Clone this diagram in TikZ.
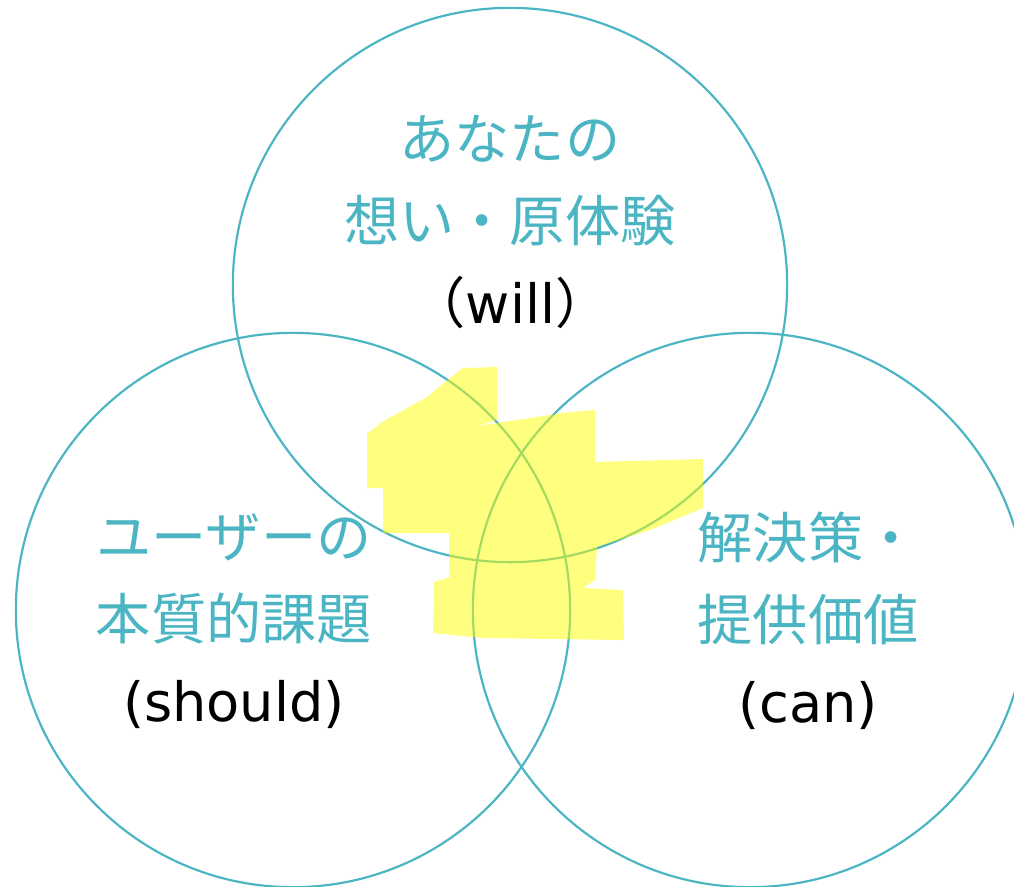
\documentclass[tikz,border=0pt]{standalone}
\usepackage{fontspec}
\setmainfont{DejaVu Sans}
\newfontfamily\jp{Noto Sans CJK JP}
\definecolor{vennteal}{RGB}{75,181,196}
\definecolor{marker}{RGB}{255,255,0}
\tikzset{
  venn/.style={draw=vennteal, line width=0.62pt},
  vtext/.style={align=center, text=vennteal, font=\jp\fontsize{15.7}{23.3}\selectfont},
}
\newcommand{\latinline}[1]{{\color{black}\rmfamily\fontsize{15.4}{23.3}\selectfont #1}}
\begin{document}
\begin{tikzpicture}[x=0.01cm, y=-0.01cm]
\useasboundingbox (0,0) rectangle (1014,887);
% the three circles
\draw[venn] (510,285) circle[radius=2.77cm];
\draw[venn] (293,610) circle[radius=2.77cm];
\draw[venn] (750,610) circle[radius=2.77cm];
% texts
\node[vtext] (will) at (510,222) {あなたの\\想い・原体験\\{\color{black}（\rmfamily\fontsize{15.4}{23.3}\selectfont will\jp ）}};
\node[vtext] (should) at (234,621) {ユーザーの\\本質的課題\\\latinline{(should)}};
\node[vtext] (can) at (808,621) {解決策・\\提供価値\\\latinline{(can)}};
% highlighter
\fill[marker, opacity=0.5] (463,368) -- (497,367) -- (497,420) -- (477,426) -- (510,421)
  -- (570,412) -- (595,410) -- (595,462) -- (703,459) -- (703,508) -- (650,530)
  -- (597,547) -- (595,580) -- (583,588) -- (623,590) -- (624,640) -- (483,638)
  -- (433,633) -- (434,582) -- (450,577) -- (449,570) -- (449,533) -- (383,533)
  -- (383,488) -- (367,488) -- (367,433) -- (372,430) -- (382,422) -- (427,397)
  -- (450,378) -- cycle;
\end{tikzpicture}
\end{document}
